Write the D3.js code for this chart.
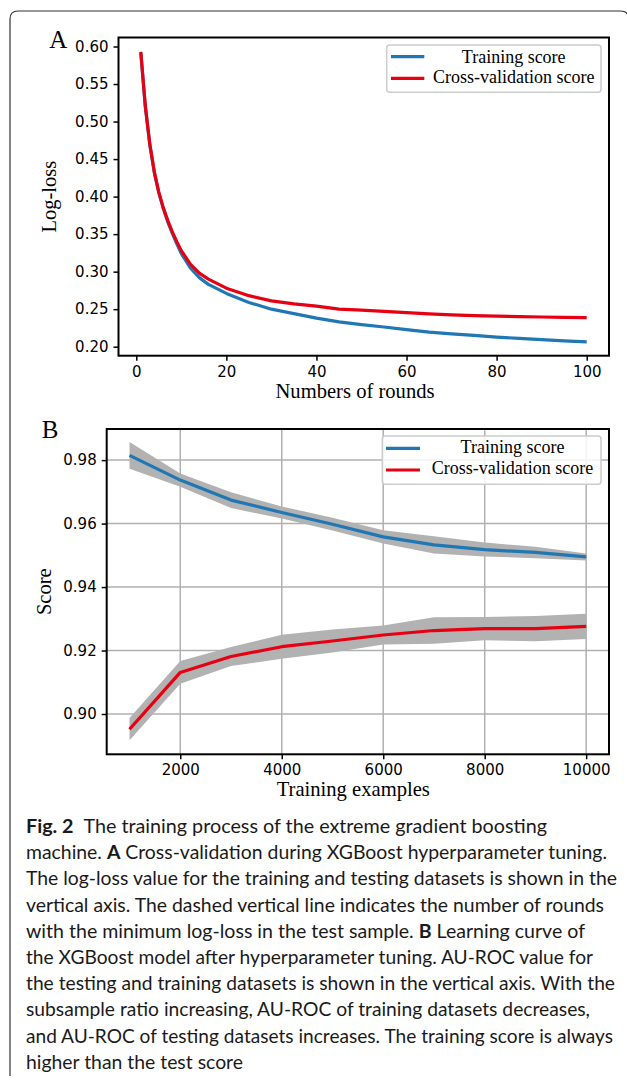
<!DOCTYPE html>
<html>
<head>
<meta charset="utf-8">
<script src="https://cdn.jsdelivr.net/npm/d3@7"></script>
<style>
  html, body { margin: 0; padding: 0; background: #fff; }
  svg { display: block; }
</style>
</head>
<body>
<svg id="chart" width="627" height="1081"></svg>
<script>
// ---------- Panel A data (log-loss per boosting round) ----------
const roundsA = [1,2,3,4,5,6,7,8,9,10,12,14,16,18,20,25,30,35,40,45,50,55,60,65,70,75,80,85,90,95,100];
const trainLoss = [0.592,0.520,0.469,0.432,0.405,0.384,0.366,0.351,0.337,0.324,0.305,0.292,0.283,0.277,0.271,0.259,0.250,0.244,0.238,0.233,0.2295,0.2262,0.2228,0.2195,0.2172,0.2150,0.2128,0.2111,0.2094,0.2078,0.2064];
const cvLoss = [0.593,0.521,0.470,0.433,0.406,0.385,0.368,0.353,0.340,0.328,0.310,0.298,0.290,0.284,0.278,0.268,0.261,0.257,0.254,0.250,0.2488,0.2470,0.2455,0.2437,0.2423,0.2413,0.2407,0.2401,0.2396,0.2391,0.2388];
const ticksAx = [0,20,40,60,80,100];
const ticksAy = [0.20,0.25,0.30,0.35,0.40,0.45,0.50,0.55,0.60];

// ---------- Panel B data (learning curve) ----------
const sizesB = [1000,2000,3000,4000,5000,6000,7000,8000,9000,10000];
const trainMean = [0.9815,0.9737,0.9674,0.9635,0.9598,0.9558,0.9533,0.9518,0.9509,0.9495];
const trainStd = [0.0042,0.0021,0.0025,0.0019,0.0020,0.0021,0.0027,0.0022,0.0018,0.0011];
const cvMean = [0.8952,0.9131,0.9181,0.9212,0.9230,0.9249,0.9263,0.9269,0.9269,0.9276];
const cvStd = [0.0035,0.0036,0.0030,0.0038,0.0036,0.0030,0.0042,0.0037,0.0040,0.0040];
const ticksBx = [2000,4000,6000,8000,10000];
const ticksBy = [0.90,0.92,0.94,0.96,0.98];

const seriesNames = ["Training score", "Cross-validation score"];

// ---------- Caption ----------
const captionLines = [
  [["Fig. 2", true], ["\u2002The training process of the extreme gradient boosting", false]],
  [["machine. ", false], ["A", true], [" Cross-validation during XGBoost hyperparameter tuning.", false]],
  [["The log-loss value for the training and testing datasets is shown in the", false]],
  [["vertical axis. The dashed vertical line indicates the number of rounds", false]],
  [["with the minimum log-loss in the test sample. ", false], ["B", true], [" Learning curve of", false]],
  [["the XGBoost model after hyperparameter tuning. AU-ROC value for", false]],
  [["the testing and training datasets is shown in the vertical axis. With the", false]],
  [["subsample ratio increasing, AU-ROC of training datasets decreases,", false]],
  [["and AU-ROC of testing datasets increases. The training score is always", false]],
  [["higher than the test score", false]]
];
const captionWidths = [521,581,591,578,559,567,589,564,587,217];

// ---------- Styles ----------
const BLUE = "#1f77b4", RED = "#e60012", BAND = "#b2b2b2", GRID = "#b0b0b0";
const TICKFONT = "'DejaVu Sans', sans-serif";
const SERIF = "'Liberation Serif', 'Times New Roman', serif";

const svg = d3.select("#chart");

// outer frame
svg.append("path")
  .attr("d", "M10,1076 V19 Q10,11 18,11 H620 Q626,11 627,14")
  .attr("fill", "none").attr("stroke", "#333").attr("stroke-width", 1.2);

function styleAxis(g) {
  g.select(".domain").remove();
  g.selectAll(".tick line").attr("stroke", "#000").attr("stroke-width", 1.5);
  g.selectAll(".tick text").attr("font-family", TICKFONT).attr("font-size", "15px").attr("fill", "#000");
}

function legend(x0, y0, w, h, rows) {
  const lg = svg.append("g");
  lg.append("rect").attr("x", x0).attr("y", y0).attr("width", w).attr("height", h)
    .attr("rx", 3).attr("fill", "#fff").attr("fill-opacity", 0.85)
    .attr("stroke", "#cccccc").attr("stroke-width", 1.5);
  rows.forEach(r => {
    lg.append("line").attr("x1", r.lx1).attr("x2", r.lx2).attr("y1", r.ly).attr("y2", r.ly)
      .attr("stroke", r.color).attr("stroke-width", 3.2);
    lg.append("text").attr("x", r.tx).attr("y", r.ty).attr("text-anchor", "middle")
      .attr("font-family", SERIF).attr("font-size", "18px").attr("fill", "#000").text(r.label);
  });
}

// ================= Panel A =================
const xA = d3.scaleLinear().domain([-3.95, 104.95]).range([118.5, 609]);
const yA = d3.scaleLinear().domain([0.188, 0.612]).range([355.7, 37.5]);

const lineA = d3.line().x(d => xA(d[0])).y(d => yA(d[1]));
svg.append("path").datum(roundsA.map((r, i) => [r, trainLoss[i]]))
  .attr("d", lineA).attr("fill", "none").attr("stroke", BLUE).attr("stroke-width", 3.2)
  .attr("stroke-linejoin", "round");
svg.append("path").datum(roundsA.map((r, i) => [r, cvLoss[i]]))
  .attr("d", lineA).attr("fill", "none").attr("stroke", RED).attr("stroke-width", 3.2)
  .attr("stroke-linejoin", "round");

svg.append("g").attr("transform", "translate(0,355.7)")
  .call(d3.axisBottom(xA).tickValues(ticksAx).tickSize(5).tickPadding(5.2).tickFormat(d3.format("d")))
  .call(styleAxis);
svg.append("g").attr("transform", "translate(118.5,0)")
  .call(d3.axisLeft(yA).tickValues(ticksAy).tickSize(5).tickPadding(5).tickFormat(d3.format(".2f")))
  .call(styleAxis);
svg.append("rect").attr("x", 118.5).attr("y", 37.5).attr("width", 609 - 118.5).attr("height", 355.7 - 37.5)
  .attr("fill", "none").attr("stroke", "#000").attr("stroke-width", 2);

svg.append("text").attr("x", 49.3).attr("y", 48.3).attr("font-family", SERIF).attr("font-size", "25px").text("A");
svg.append("text").attr("transform", "translate(56,196.6) rotate(-90)").attr("text-anchor", "middle")
  .attr("font-family", SERIF).attr("font-size", "20.5px").text("Log-loss");
svg.append("text").attr("x", 355).attr("y", 397.5).attr("text-anchor", "middle")
  .attr("font-family", SERIF).attr("font-size", "20.6px").text("Numbers of rounds");

legend(386.7, 45, 214.3, 47.3, [
  { lx1: 391, lx2: 424.3, ly: 56.7, color: BLUE, tx: 513.7, ty: 62.7, label: seriesNames[0] },
  { lx1: 391, lx2: 424.3, ly: 78.3, color: RED, tx: 513.7, ty: 83.3, label: seriesNames[1] }
]);

// ================= Panel B =================
const xB = d3.scaleLinear().domain([550, 10450]).range([106.7, 609]);
const yB = d3.scaleLinear().domain([0.8873, 0.9898]).range([754.3, 429]);

// grid
svg.append("g").selectAll("line.v").data(ticksBx).join("line")
  .attr("x1", d => xB(d)).attr("x2", d => xB(d)).attr("y1", 429).attr("y2", 754.3)
  .attr("stroke", GRID).attr("stroke-width", 1.5);
svg.append("g").selectAll("line.h").data(ticksBy).join("line")
  .attr("x1", 106.7).attr("x2", 609).attr("y1", d => yB(d)).attr("y2", d => yB(d))
  .attr("stroke", GRID).attr("stroke-width", 1.5);

const areaB = d3.area().x(d => xB(d.x)).y0(d => yB(d.m - d.s)).y1(d => yB(d.m + d.s));
const lineB = d3.line().x(d => xB(d.x)).y(d => yB(d.m));
const trainB = sizesB.map((x, i) => ({ x, m: trainMean[i], s: trainStd[i] }));
const cvB = sizesB.map((x, i) => ({ x, m: cvMean[i], s: cvStd[i] }));

svg.append("path").datum(trainB).attr("d", areaB).attr("fill", BAND);
svg.append("path").datum(cvB).attr("d", areaB).attr("fill", BAND);
svg.append("path").datum(trainB).attr("d", lineB).attr("fill", "none").attr("stroke", BLUE)
  .attr("stroke-width", 3.2).attr("stroke-linejoin", "round");
svg.append("path").datum(cvB).attr("d", lineB).attr("fill", "none").attr("stroke", RED)
  .attr("stroke-width", 3.2).attr("stroke-linejoin", "round");

svg.append("g").attr("transform", "translate(0,754.3)")
  .call(d3.axisBottom(xB).tickValues(ticksBx).tickSize(5).tickPadding(5.5).tickFormat(d3.format("d")))
  .call(styleAxis);
svg.append("g").attr("transform", "translate(106.7,0)")
  .call(d3.axisLeft(yB).tickValues(ticksBy).tickSize(5).tickPadding(5).tickFormat(d3.format(".2f")))
  .call(styleAxis);
svg.append("rect").attr("x", 106.7).attr("y", 429).attr("width", 609 - 106.7).attr("height", 754.3 - 429)
  .attr("fill", "none").attr("stroke", "#000").attr("stroke-width", 2);

svg.append("text").attr("x", 41.7).attr("y", 437.7).attr("font-family", SERIF).attr("font-size", "25px").text("B");
svg.append("text").attr("transform", "translate(50.5,591.7) rotate(-90)").attr("text-anchor", "middle")
  .attr("font-family", SERIF).attr("font-size", "20.5px").text("Score");
svg.append("text").attr("x", 353.3).attr("y", 795.5).attr("text-anchor", "middle")
  .attr("font-family", SERIF).attr("font-size", "20.6px").text("Training examples");

legend(382.3, 436, 218.7, 48.3, [
  { lx1: 386, lx2: 420, ly: 448.3, color: BLUE, tx: 512.5, ty: 453.3, label: seriesNames[0] },
  { lx1: 386, lx2: 420, ly: 470, color: RED, tx: 512.5, ty: 474, label: seriesNames[1] }
]);

// ================= Caption =================
const cap = svg.append("g");
captionLines.forEach((segs, i) => {
  const t = cap.append("text").attr("x", 26).attr("y", 833 + i * 26.2)
    .attr("font-family", "Lato, 'Noto Sans', sans-serif").attr("font-size", "19px").attr("fill", "#1a1a1a")
    .attr("textLength", captionWidths[i]).attr("lengthAdjust", "spacingAndGlyphs");
  segs.forEach(s => {
    t.append("tspan").attr("font-weight", s[1] ? "bold" : "normal").text(s[0]);
  });
});
</script>
</body>
</html>
